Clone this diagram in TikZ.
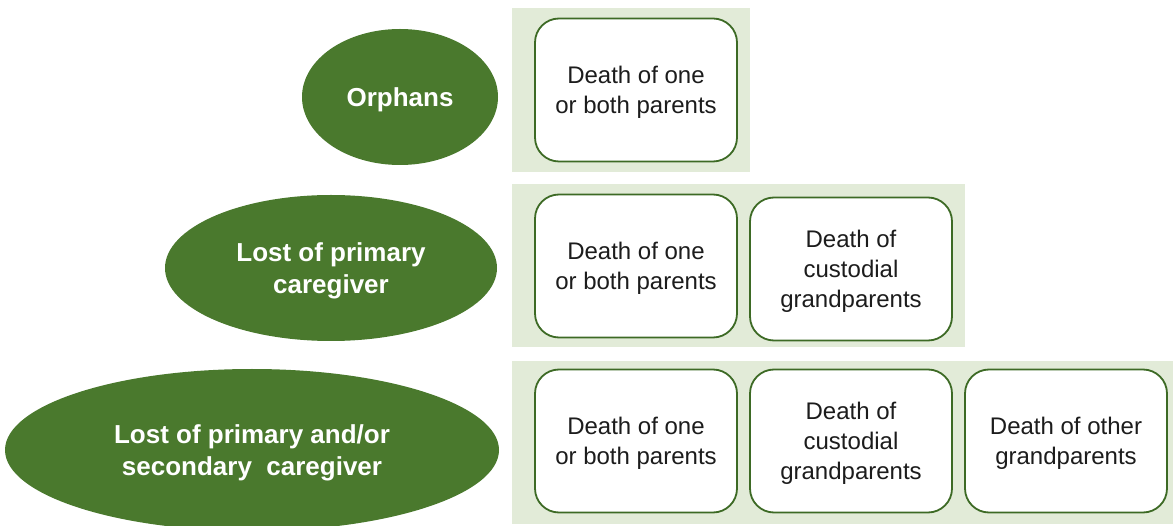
\documentclass[tikz,border=0pt]{standalone}
\usepackage{fontspec}
\setmainfont{Liberation Sans}
\usetikzlibrary{shapes.geometric}
\definecolor{panelgreen}{HTML}{E2EBD8}
\definecolor{ovalgreen}{HTML}{4A792D}
\definecolor{boxline}{HTML}{3D6A25}
\definecolor{boxtext}{HTML}{1C1C1C}
\tikzset{
  panel/.style={fill=panelgreen, draw=none},
  causebox/.style={draw=boxline, line width=1.8pt, fill=white, rounded corners=24pt,
    minimum width=202pt, minimum height=143pt, inner sep=0pt, align=center,
    text depth=0pt, text=boxtext, font=\fontsize{24}{30}\selectfont},
  groupoval/.style={ellipse, fill=ovalgreen, draw=none, inner sep=0pt, align=center,
    text depth=0pt, text=white, font=\fontsize{26}{32}\selectfont\bfseries}
}
\begin{document}
\begin{tikzpicture}[x=1pt,y=-1pt]
\useasboundingbox (0,0) rectangle (1173,526);
\clip (0,0) rectangle (1173,526);
% panels
\path[panel] (512,8) rectangle (750,172);
\path[panel] (512,184) rectangle (965,347);
\path[panel] (512,361) rectangle (1173,524);
% ovals
\node[groupoval, minimum width=196pt, minimum height=136pt] (e1) at (400,97) {Orphans};
\node[groupoval, minimum width=332pt, minimum height=146pt] (e2) at (331,268) {Lost of primary\\caregiver};
\node[groupoval, minimum width=494pt, minimum height=162pt] (e3) at (252,450) {Lost of primary and/or\\secondary\ \ caregiver};
% boxes
\node[causebox] (b11) at (636,90) {Death of one\\or both parents};
\node[causebox] (b21) at (636,266) {Death of one\\or both parents};
\node[causebox] (b22) at (851,269) {Death of\\custodial\\grandparents};
\node[causebox] (b31) at (636,441) {Death of one\\or both parents};
\node[causebox] (b32) at (851,441) {Death of\\custodial\\grandparents};
\node[causebox] (b33) at (1066,441) {Death of other\\grandparents};
\end{tikzpicture}
\end{document}
